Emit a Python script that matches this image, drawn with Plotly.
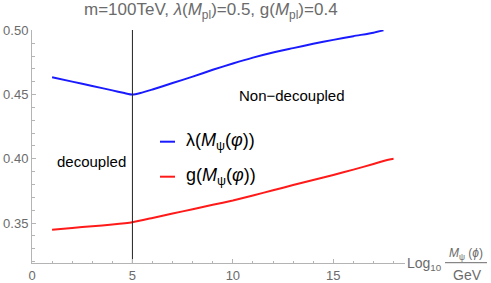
import plotly.graph_objects as go

# ---- data ----
lam_x = [1, 2, 3, 4, 4.6, 5, 5.4, 6, 7, 8, 9, 10, 11, 12, 13, 14, 15, 16, 17, 17.5]
lam_y = [0.4635, 0.4601, 0.4567, 0.4533, 0.4512, 0.4500, 0.4512, 0.4540, 0.4590,
         0.4640, 0.4693, 0.4742, 0.4788, 0.4828, 0.4862, 0.4896, 0.4926, 0.4955,
         0.4982, 0.5000]
g_x = [1, 2, 3, 4, 5, 6, 7, 8, 9, 10, 11, 12, 13, 14, 15, 16, 17, 17.5, 17.8, 18]
g_y = [0.3448, 0.3462, 0.3475, 0.3489, 0.3507, 0.3540, 0.3574, 0.3608, 0.3642,
       0.3676, 0.3715, 0.3755, 0.3796, 0.3835, 0.3874, 0.3916, 0.3960, 0.3983, 0.3995, 0.4000]
split_x = 5
x_range = [0, 18.57]
y_range = [0.3189, 0.5003]
x_ticks = [0, 5, 10, 15]
y_ticks = [0.35, 0.40, 0.45, 0.50]
y_tick_labels = ["0.35", "0.40", "0.45", "0.50"]

FONT = "Liberation Sans, Arial, sans-serif"
GREY = "#6b6b6b"
AXIS = "#b4b4b4"

fig = go.Figure()
fig.add_trace(go.Scatter(x=lam_x, y=lam_y, mode="lines", line=dict(color="#1a1aff", width=2),
                         line_shape="spline", line_smoothing=0.6, showlegend=False, hoverinfo="skip"))
fig.add_trace(go.Scatter(x=g_x, y=g_y, mode="lines", line=dict(color="#ff1a1a", width=2),
                         line_shape="spline", line_smoothing=0.5, showlegend=False, hoverinfo="skip"))
fig.add_trace(go.Scatter(x=[split_x, split_x], y=y_range, mode="lines",
                         line=dict(color="#222222", width=1), showlegend=False, hoverinfo="skip"))

W, H = 491, 283
ml, mr, mt, mb = 32, 86, 30, 20
PW, PH = W - ml - mr, H - mt - mb


def px(xp):
    return (xp - ml) / PW


def py(yp):
    return (H - mb - yp) / PH


fig.update_layout(
    width=W, height=H,
    margin=dict(l=ml, r=mr, t=mt, b=mb, autoexpand=False),
    paper_bgcolor="white", plot_bgcolor="white",
    font=dict(family=FONT, size=12, color=GREY),
    xaxis=dict(range=x_range, tickvals=x_ticks, showgrid=False, zeroline=False, automargin=False,
               showline=True, linecolor=AXIS, linewidth=1,
               ticks="inside", ticklen=4, tickcolor=AXIS,
               minor=dict(dtick=1, ticks="inside", ticklen=2.5, tickcolor=AXIS),
               tickfont=dict(size=13, color=GREY, family=FONT)),
    yaxis=dict(range=y_range, tickvals=y_ticks, ticktext=y_tick_labels, showgrid=False,
               zeroline=False, showline=True, linecolor=AXIS, linewidth=1, automargin=False,
               ticks="inside", ticklen=4, tickcolor=AXIS,
               minor=dict(dtick=0.01, ticks="inside", ticklen=2.5, tickcolor=AXIS),
               tickfont=dict(size=13, color=GREY, family=FONT)),
)

ann = []
# title
ann.append(dict(x=px(211), y=py(11), xref="paper", yref="paper", showarrow=False,
                text="m=100TeV, <i>λ</i>(<i>M</i><sub>pl</sub>)=0.5, g(<i>M</i><sub>pl</sub>)=0.4",
                font=dict(size=17, color=GREY, family=FONT), xanchor="center", yanchor="middle"))
# region labels
ann.append(dict(x=12.93, y=0.4492, xref="x", yref="y", showarrow=False, text="Non−decoupled",
                font=dict(size=15, color="black", family=FONT), xanchor="center", yanchor="middle"))
ann.append(dict(x=px(91), y=py(161), xref="paper", yref="paper", showarrow=False, text="decoupled",
                font=dict(size=15, color="black", family=FONT), xanchor="center", yanchor="middle"))
# legend texts
ann.append(dict(x=px(184), y=py(141), xref="paper", yref="paper", showarrow=False,
                text="λ(<i>M</i><sub>ψ</sub>(<i>φ</i>))",
                font=dict(size=18, color="black", family=FONT), xanchor="left", yanchor="middle"))
ann.append(dict(x=px(184), y=py(176), xref="paper", yref="paper", showarrow=False,
                text="g(<i>M</i><sub>ψ</sub>(<i>φ</i>))",
                font=dict(size=18, color="black", family=FONT), xanchor="left", yanchor="middle"))
# axis label
ann.append(dict(x=px(405), y=py(264), xref="paper", yref="paper", showarrow=False,
                text="Log<sub>10</sub>", font=dict(size=14, color=GREY, family=FONT),
                xanchor="left", yanchor="middle"))
ann.append(dict(x=px(466), y=py(254), xref="paper", yref="paper", showarrow=False,
                text="<i>M</i><sub>ψ</sub> (<i>ϕ</i>)", font=dict(size=12, color=GREY, family=FONT),
                xanchor="center", yanchor="middle"))
ann.append(dict(x=px(467), y=py(275), xref="paper", yref="paper", showarrow=False,
                text="GeV", font=dict(size=14, color=GREY, family=FONT),
                xanchor="center", yanchor="middle"))
fig.update_layout(annotations=ann)

shapes = [
    dict(type="line", xref="paper", yref="paper", x0=px(160), x1=px(175), y0=py(141.7), y1=py(141.7),
         line=dict(color="#1a1aff", width=2)),
    dict(type="line", xref="paper", yref="paper", x0=px(160), x1=px(175), y0=py(176.7), y1=py(176.7),
         line=dict(color="#ff1a1a", width=2)),
    dict(type="line", xref="paper", yref="paper", x0=px(445), x1=px(487), y0=py(262.7), y1=py(262.7),
         line=dict(color=GREY, width=1)),
]
fig.update_layout(shapes=shapes)

fig.write_html("out.html", config={"displayModeBar": False},
               post_script="document.body.style.margin='0';document.body.style.overflow='hidden';")
